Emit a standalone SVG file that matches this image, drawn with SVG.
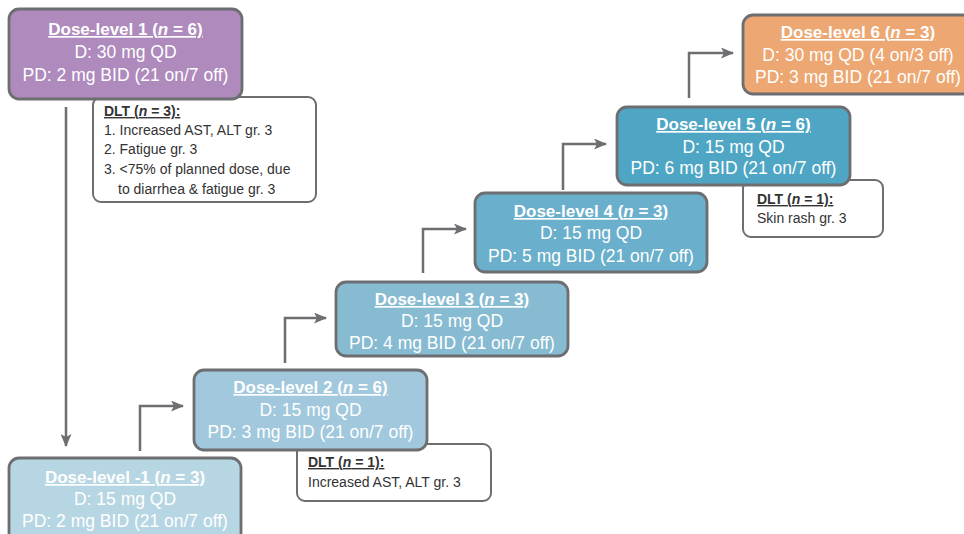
<svg xmlns="http://www.w3.org/2000/svg" width="964" height="534" viewBox="0 0 964 534">
<defs>
<marker id="ah" markerWidth="13" markerHeight="11" refX="12" refY="5.5" orient="auto" markerUnits="userSpaceOnUse">
<path d="M0,0 L13,5.5 L0,11 L3,5.5 Z" fill="#6d6e71"/>
</marker>
<style>
.box{stroke:#6d6e71;stroke-width:2.8}
.dlt{fill:#fff;stroke:#6d6e71;stroke-width:2}
.t{font-family:"Liberation Sans",Arial,sans-serif;font-size:17.5px;fill:#fff;text-anchor:middle}
.h{font-weight:bold;text-decoration:underline;font-size:17px}
.d{font-family:"Liberation Sans",Arial,sans-serif;font-size:14px;fill:#333}
.conn{fill:none;stroke:#6d6e71;stroke-width:2.5}
</style>
</defs>
<rect width="964" height="534" fill="#fff"/>
<g id="connectors">
<path class="conn" d="M66,107 V446" marker-end="url(#ah)"/>
<path class="conn" d="M140,451 V406 H183" marker-end="url(#ah)"/>
<path class="conn" d="M285,363 V318 H326" marker-end="url(#ah)"/>
<path class="conn" d="M423,273 V229 H466" marker-end="url(#ah)"/>
<path class="conn" d="M563,190 V144 H606" marker-end="url(#ah)"/>
<path class="conn" d="M689,98 V53 H733" marker-end="url(#ah)"/>
</g>
<g id="dlt1">
<rect class="dlt" x="93" y="97" width="223" height="105" rx="8"/>
<text class="d" x="104" y="116" font-weight="bold" text-decoration="underline">DLT (<tspan font-style="italic">n</tspan> = 3):</text>
<text class="d" x="104" y="135">1. Increased AST, ALT gr. 3</text>
<text class="d" x="104" y="154">2. Fatigue gr. 3</text>
<text class="d" x="104" y="174">3. &lt;75% of planned dose, due</text>
<text class="d" x="118" y="194">to diarrhea &amp; fatigue gr. 3</text>
</g>
<g id="dl1">
<rect class="box" x="9" y="9" width="233" height="90" rx="10" fill="#ae8abd"/>
<text class="t h" x="125.5" y="35">Dose-level 1 (<tspan font-style="italic">n</tspan> = 6)</text>
<text class="t" x="125.5" y="58">D: 30 mg QD</text>
<text class="t" x="125.5" y="81">PD: 2 mg BID (21 on/7 off)</text>
</g>
<g id="dlm1">
<rect class="box" x="9" y="458" width="232" height="90" rx="10" fill="#b7d6e3"/>
<text class="t h" x="125" y="483">Dose-level -1 (<tspan font-style="italic">n</tspan> = 3)</text>
<text class="t" x="125" y="505">D: 15 mg QD</text>
<text class="t" x="125" y="527">PD: 2 mg BID (21 on/7 off)</text>
</g>
<g id="dlt2">
<rect class="dlt" x="297" y="444" width="194" height="57" rx="8"/>
<text class="d" x="308" y="467" font-weight="bold" text-decoration="underline">DLT (<tspan font-style="italic">n</tspan> = 1):</text>
<text class="d" x="308" y="487">Increased AST, ALT gr. 3</text>
</g>
<g id="dl2">
<rect class="box" x="194" y="370" width="233" height="80" rx="10" fill="#a1c8dc"/>
<text class="t h" x="310.5" y="393">Dose-level 2 (<tspan font-style="italic">n</tspan> = 6)</text>
<text class="t" x="310.5" y="416">D: 15 mg QD</text>
<text class="t" x="310.5" y="438">PD: 3 mg BID (21 on/7 off)</text>
</g>
<g id="dl3">
<rect class="box" x="336" y="282" width="232" height="74" rx="10" fill="#87bbd2"/>
<text class="t h" x="452" y="305">Dose-level 3 (<tspan font-style="italic">n</tspan> = 3)</text>
<text class="t" x="452" y="327">D: 15 mg QD</text>
<text class="t" x="452" y="349">PD: 4 mg BID (21 on/7 off)</text>
</g>
<g id="dl4">
<rect class="box" x="475" y="193" width="232" height="79" rx="10" fill="#6aafcb"/>
<text class="t h" x="591" y="217">Dose-level 4 (<tspan font-style="italic">n</tspan> = 3)</text>
<text class="t" x="591" y="239">D: 15 mg QD</text>
<text class="t" x="591" y="262">PD: 5 mg BID (21 on/7 off)</text>
</g>
<g id="dlt5">
<rect class="dlt" x="743" y="180" width="140" height="57" rx="8"/>
<text class="d" x="757" y="204" font-weight="bold" text-decoration="underline">DLT (<tspan font-style="italic">n</tspan> = 1):</text>
<text class="d" x="757" y="223">Skin rash gr. 3</text>
</g>
<g id="dl5">
<rect class="box" x="617" y="107" width="233" height="78" rx="10" fill="#4ea6c4"/>
<text class="t h" x="733.5" y="130">Dose-level 5 (<tspan font-style="italic">n</tspan> = 6)</text>
<text class="t" x="733.5" y="153">D: 15 mg QD</text>
<text class="t" x="733.5" y="174">PD: 6 mg BID (21 on/7 off)</text>
</g>
<g id="dl6">
<rect class="box" x="743" y="15" width="230" height="79" rx="10" fill="#eca772"/>
<text class="t h" x="858" y="38">Dose-level 6 (<tspan font-style="italic">n</tspan> = 3)</text>
<text class="t" x="858" y="61">D: 30 mg QD (4 on/3 off)</text>
<text class="t" x="858" y="83">PD: 3 mg BID (21 on/7 off)</text>
</g>
</svg>
